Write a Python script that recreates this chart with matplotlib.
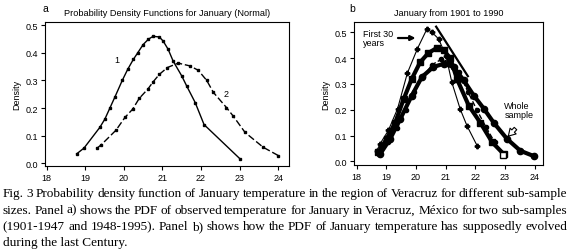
import matplotlib
matplotlib.use("Agg")
import matplotlib.pyplot as plt

# ----->> Panel a: two sub-samples (normal PDFs)
a1_x = [18.78, 18.97, 19.38, 19.51, 19.64, 19.77, 19.96, 20.10, 20.25, 20.36, 20.50,
        20.64, 20.76, 20.92, 21.02, 21.15, 21.28, 21.50, 21.63, 21.85, 22.08, 23.01]
a1_y = [0.034, 0.055, 0.13, 0.16, 0.20, 0.24, 0.30, 0.34, 0.377, 0.40, 0.43,
        0.45, 0.46, 0.458, 0.443, 0.413, 0.37, 0.317, 0.28, 0.22, 0.14, 0.016]
a2_x = [19.30, 19.41, 19.80, 20.03, 20.23, 20.40, 20.63, 20.76, 20.92, 21.13, 21.41,
        21.71, 21.93, 22.15, 22.32, 22.66, 22.84, 23.14, 23.61, 24.00]
a2_y = [0.054, 0.066, 0.12, 0.166, 0.196, 0.235, 0.27, 0.295, 0.322, 0.347, 0.363,
        0.353, 0.337, 0.30, 0.257, 0.202, 0.17, 0.112, 0.058, 0.028]

# ----->> Panel b: January from 1901 to 1990
b1_x = [18.68, 18.79, 19.07, 19.38, 19.71, 20.05, 20.37, 20.54, 20.76, 21.01, 21.21,
        21.49, 21.72, 22.06]
b1_y = [0.041, 0.068, 0.12, 0.204, 0.342, 0.437, 0.513, 0.50, 0.475, 0.41, 0.306,
        0.203, 0.138, 0.061]
b2_x = [18.73, 19.01, 19.30, 19.58, 19.86, 20.14, 20.42, 20.71, 20.93, 21.16, 21.38,
        21.78, 22.17, 22.57, 22.96]
b2_y = [0.035, 0.087, 0.15, 0.24, 0.32, 0.384, 0.42, 0.44, 0.43, 0.40, 0.32,
        0.216, 0.15, 0.074, 0.028]
b3_x = [18.75, 19.05, 19.35, 19.65, 19.95, 20.25, 20.55, 20.85, 21.15, 21.45, 21.75,
        22.05, 22.35, 22.65, 22.95]
b3_y = [0.03, 0.075, 0.13, 0.2, 0.27, 0.33, 0.375, 0.395, 0.385, 0.345, 0.27,
        0.2, 0.135, 0.075, 0.025]
b4_x = [18.79, 19.13, 19.47, 19.86, 20.20, 20.59, 20.93, 21.27, 21.61, 21.95, 22.29,
        22.62, 23.07, 23.52, 23.98]
b4_y = [0.028, 0.087, 0.164, 0.255, 0.327, 0.366, 0.378, 0.366, 0.314, 0.255, 0.204,
        0.15, 0.087, 0.041, 0.02]

x_ticks = [18, 19, 20, 21, 22, 23, 24]
y_ticks = [0.0, 0.1, 0.2, 0.3, 0.4, 0.5]

caption = [
    "Fig. 3 Probability density function of January temperature in the region of  Veracruz for different sub-sample",
    "sizes. Panel a) shows the PDF of observed temperature for January in Veracruz, México for two sub-samples",
    "(1901-1947 and 1948-1995). Panel b) shows how the PDF of January temperature has supposedly evolved",
    "during the last Century.",
]

plt.rcParams['font.family'] = ['Liberation Sans', 'DejaVu Sans']
fig = plt.figure(figsize=(5.7, 2.53), dpi=100)

ax_a = fig.add_axes([0.079, 0.340, 0.428, 0.569])
ax_b = fig.add_axes([0.621, 0.344, 0.332, 0.565])

for ax in (ax_a, ax_b):
    ax.set_xticks(x_ticks)
    ax.set_yticks(y_ticks)
    ax.set_yticklabels(["%.1f" % v for v in y_ticks])
    ax.tick_params(labelsize=6.5, length=3, width=0.8, pad=2)
    ax.set_ylabel("Density", fontsize=6.5, labelpad=3)
    for s in ax.spines.values():
        s.set_linewidth(0.8)

# panel a
ax_a.plot(a1_x, a1_y, color="black", lw=1.0, marker="s", ms=1.8)
ax_a.plot(a2_x, a2_y, color="black", lw=1.0, ls=(0, (5, 2)), marker="s", ms=1.8)
ax_a.set_xlim(17.96, 24.28)
ax_a.set_ylim(-0.01, 0.512)
ax_a.text(19.83, 0.376, "1", fontsize=6.5, ha="center", va="center")
ax_a.text(22.66, 0.253, "2", fontsize=6.5, ha="center", va="center")
ax_a.set_title("Probability Density Functions for January (Normal)", fontsize=6.6, pad=5)
fig.text(0.075, 0.985, "a", fontsize=7.5, va="top")

# panel b
ax_b.plot(b1_x, b1_y, color="black", lw=0.8, marker="P", ms=3.2)
ax_b.plot(b3_x, b3_y, color="black", lw=1.0, ls="--", marker="o", ms=3.0)
ax_b.plot(b2_x, b2_y, color="black", lw=3.0, marker="s", ms=4.5)
ax_b.plot(b4_x, b4_y, color="black", lw=3.0, marker="o", ms=4.5)
ax_b.plot([b3_x[-1]], [b3_y[-1]], color="black", marker="s", ms=4, mfc="white")
ax_b.plot([20.68, 21.75], [0.522, 0.33], color="black", lw=1.6)
ax_b.set_xlim(17.91, 24.29)
ax_b.set_ylim(-0.014, 0.54)
ax_b.annotate("", xy=(20.08, 0.478), xytext=(19.3, 0.478),
              arrowprops=dict(arrowstyle="-|>", color="black", lw=1.6, mutation_scale=7))
ax_b.text(18.2, 0.478, "First 30\nyears", fontsize=6.5, va="center", ha="left", linespacing=0.95)
ax_b.annotate("", xy=(23.05, 0.09), xytext=(23.42, 0.135),
              arrowprops=dict(arrowstyle="simple,head_width=0.6,tail_width=0.25",
                              fc="white", ec="black", lw=0.8))
ax_b.text(22.98, 0.2, "Whole\nsample", fontsize=6.5, va="center", ha="left", linespacing=0.95)
ax_b.set_title("January from 1901 to 1990", fontsize=6.6, pad=5)
fig.text(0.612, 0.985, "b", fontsize=7.5, va="top")

# caption, justified
renderer = fig.canvas.get_renderer()
x0, x1 = 0.005, 0.995
line_y = [0.221, 0.156, 0.091, 0.026]
for i, line in enumerate(caption):
    words = line.split()
    if i == len(caption) - 1:
        fig.text(x0, line_y[i], line, fontsize=9.5, family="Liberation Serif", va="baseline")
        continue
    texts = [fig.text(0, line_y[i], w, fontsize=9.5, family="Liberation Serif", va="baseline")
             for w in words]
    widths = [t.get_window_extent(renderer).width / fig.bbox.width for t in texts]
    gap = (x1 - x0 - sum(widths)) / (len(words) - 1)
    pos = x0
    for t, w in zip(texts, widths):
        t.set_x(pos)
        pos += w + gap

fig.savefig("out.png", dpi=100)
